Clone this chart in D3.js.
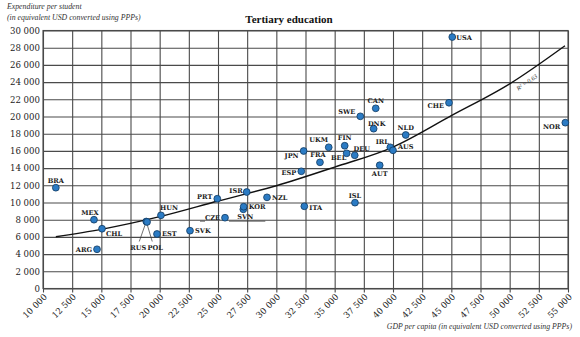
<!DOCTYPE html>
<html>
<head>
<meta charset="utf-8">
<script src="https://cdn.jsdelivr.net/npm/d3@7"></script>
<style>
  body { margin: 0; background: #fff; }
  svg { display: block; }
</style>
</head>
<body>
<div id="chart"></div>
<script>
// country codes, GDP per capita and spending per tertiary student (USD PPP)
const countries = ["BRA","MEX","CHL","ARG","RUS","POL","HUN","EST","SVK","CZE","SVN","KOR","PRT","ISR","NZL","ITA","ESP","JPN","FRA","UKM","FIN","BEL","DEU","ISL","AUT","IRL","AUS","NLD","DNK","SWE","CAN","CHE","USA","NOR"];
const gdp = [11100,14370,15060,14630,18850,18920,20110,19770,22600,25600,27170,27200,24940,27460,29200,32400,32140,32340,33740,34490,35860,36030,36720,36740,38860,39770,40000,41090,38340,37200,38520,44800,45080,54770];
const spend = [11720,8000,6950,4560,7790,7740,8510,6340,6720,8230,9210,9510,10440,11220,10600,9560,13630,15990,14670,16420,16600,15720,15490,9980,14330,16420,16070,17850,18580,20020,20950,21600,29240,19280];

// trend curve (R2 = 0.63)
const trendGdp = [11100,15000,20000,25000,30000,35000,40000,45000,50000,54740];
const trendSpend = [6020,6880,8350,10170,11950,14120,16450,20100,23800,28230];

const xTicks = [10000,12500,15000,17500,20000,22500,25000,27500,30000,32500,35000,37500,40000,42500,45000,47500,50000,52500,55000];
const yTicks = [0,2000,4000,6000,8000,10000,12000,14000,16000,18000,20000,22000,24000,26000,28000,30000];

// label placement: [dx, dy, anchor]
const labelPos = {
  BRA:[0,-5,"middle"], MEX:[-4,-5,"middle"], CHL:[4,7,"start"], ARG:[-5,2.5,"end"],
  HUN:[-1,-5,"start"], EST:[5,2.5,"start"], SVK:[5,2.5,"start"], CZE:[-5,2.5,"end"],
  SVN:[-6,10,"start"], KOR:[5,2.5,"start"], PRT:[-5,0,"end"], ISR:[-4,1,"end"],
  NZL:[5,2.5,"start"], ITA:[5,4,"start"], ESP:[-5,3.5,"end"], JPN:[-5,7,"end"],
  FRA:[-2,-5,"middle"], UKM:[-10,-5,"middle"], FIN:[0,-6,"middle"], BEL:[-8,7,"middle"],
  DEU:[7,-4,"middle"], ISL:[0,-5,"middle"], AUT:[0,11,"middle"], IRL:[-8,-3,"middle"],
  AUS:[5,-1,"start"], NLD:[0,-4.5,"middle"], DNK:[3,-3,"middle"], SWE:[-5,-2,"end"],
  CAN:[0,-5,"middle"], CHE:[-5,5,"end"], USA:[4,2.5,"start"], NOR:[-5,6,"end"]
};

const W = 580, H = 337;
const margin = { top: 30.5, right: 12, bottom: 48.5, left: 43 };
const width = W - margin.left - margin.right;
const height = H - margin.top - margin.bottom;

const fmt = d3.formatLocale({ decimal: ".", thousands: " ", grouping: [3], currency: ["", ""] }).format(",");

const svg = d3.select("#chart").append("svg")
  .attr("width", W).attr("height", H);

svg.append("text")
  .attr("x", 289).attr("y", 23)
  .attr("text-anchor", "middle")
  .attr("font-family", "Liberation Serif")
  .attr("font-weight", "bold")
  .attr("font-size", 11)
  .attr("fill", "#111")
  .text("Tertiary education");

svg.append("text")
  .attr("x", 7).attr("y", 9)
  .attr("font-family", "Liberation Serif").attr("font-style", "italic")
  .attr("font-size", 7.8).attr("fill", "#333")
  .text("Expenditure per student");
svg.append("text")
  .attr("x", 7).attr("y", 20)
  .attr("font-family", "Liberation Serif").attr("font-style", "italic")
  .attr("font-size", 7.8).attr("fill", "#333")
  .text("(in equivalent USD converted using PPPs)");

svg.append("text")
  .attr("x", 572).attr("y", 329)
  .attr("text-anchor", "end")
  .attr("font-family", "Liberation Serif").attr("font-style", "italic")
  .attr("font-size", 7.8).attr("fill", "#333")
  .text("GDP per capita (in equivalent USD converted using PPPs)");

const g = svg.append("g").attr("transform", `translate(${margin.left},${margin.top})`);

const x = d3.scaleLinear().domain([10000, 55000]).range([0, width]);
const y = d3.scaleLinear().domain([0, 30000]).range([height, 0]);

// grid
const yAxis = g.append("g").call(d3.axisLeft(y).tickValues(yTicks).tickFormat(fmt).tickSize(-width).tickPadding(3));
const xAxis = g.append("g").attr("transform", `translate(0,${height})`)
  .call(d3.axisBottom(x).tickValues(xTicks).tickFormat(fmt).tickSize(height).tickSizeOuter(0));
xAxis.selectAll(".tick line").attr("y1", -height).attr("y2", 4);
[xAxis, yAxis].forEach(a => {
  a.select(".domain").remove();
  a.selectAll(".tick line").attr("stroke", "#4a4a4a").attr("stroke-width", 1.1);
  a.selectAll(".tick text").attr("fill", "#222").attr("font-family", "DejaVu Serif").attr("font-size", 8.6);
});
xAxis.selectAll(".tick text")
  .attr("text-anchor", "end")
  .attr("dy", 0)
  .attr("transform", "translate(4,9) rotate(-45)")
  .attr("y", 0).attr("x", 0);

g.append("rect")
  .attr("width", width).attr("height", height)
  .attr("fill", "none").attr("stroke", "#4a4a4a").attr("stroke-width", 1.1);

// trend line
const trend = trendGdp.map((v, i) => [v, trendSpend[i]]);
g.append("path")
  .datum(trend)
  .attr("fill", "none")
  .attr("stroke", "#111")
  .attr("stroke-width", 1.4)
  .attr("d", d3.line().x(d => x(d[0])).y(d => y(d[1])).curve(d3.curveMonotoneX));

g.append("text")
  .attr("transform", `translate(${528 - margin.left},${84 - margin.top}) rotate(-34)`)
  .attr("text-anchor", "middle")
  .attr("font-family", "Liberation Serif").attr("font-style", "italic")
  .attr("font-size", 6.2).attr("fill", "#333")
  .text("R² = 0.63");

const data = countries.map((c, i) => ({ c, gdp: gdp[i], v: spend[i] }));
const pt = c => data.find(d => d.c === c);

// leader lines
const lead = g.append("g").attr("stroke", "#333").attr("stroke-width", 0.7).attr("fill", "none");
const rus = pt("RUS");
lead.append("line").attr("x1", x(rus.gdp)).attr("y1", y(rus.v)).attr("x2", x(rus.gdp) - 7).attr("y2", y(rus.v) + 20);
lead.append("line").attr("x1", x(rus.gdp)).attr("y1", y(rus.v)).attr("x2", x(rus.gdp) + 6).attr("y2", y(rus.v) + 20);
const cze = pt("CZE"), svn = pt("SVN");
lead.append("line").attr("x1", x(cze.gdp) - 25).attr("y1", y(cze.v) + 3.5).attr("x2", x(cze.gdp) - 20).attr("y2", y(cze.v) + 3.5);
lead.append("line").attr("x1", x(cze.gdp) + 4).attr("y1", y(cze.v) + 3.5).attr("x2", x(svn.gdp) + 22).attr("y2", y(cze.v) + 3.5);

g.selectAll("circle.pt")
  .data(data)
  .enter()
  .append("circle")
  .attr("class", "pt")
  .attr("cx", d => x(d.gdp))
  .attr("cy", d => y(d.v))
  .attr("r", 3.4)
  .attr("fill", "#2b7bc4")
  .attr("stroke", "#123a60")
  .attr("stroke-width", 0.8);

const lbl = g.append("g")
  .attr("font-family", "DejaVu Serif")
  .attr("font-weight", "bold")
  .attr("font-size", 6.6)
  .attr("fill", "#222");

lbl.selectAll("text")
  .data(data.filter(d => labelPos[d.c]))
  .enter()
  .append("text")
  .attr("x", d => x(d.gdp) + labelPos[d.c][0])
  .attr("y", d => y(d.v) + labelPos[d.c][1])
  .attr("text-anchor", d => labelPos[d.c][2])
  .text(d => d.c);

lbl.append("text").attr("x", x(rus.gdp) - 8).attr("y", y(rus.v) + 28).attr("text-anchor", "middle").text("RUS");
lbl.append("text").attr("x", x(rus.gdp) + 9).attr("y", y(rus.v) + 28).attr("text-anchor", "middle").text("POL");
</script>
</body>
</html>
